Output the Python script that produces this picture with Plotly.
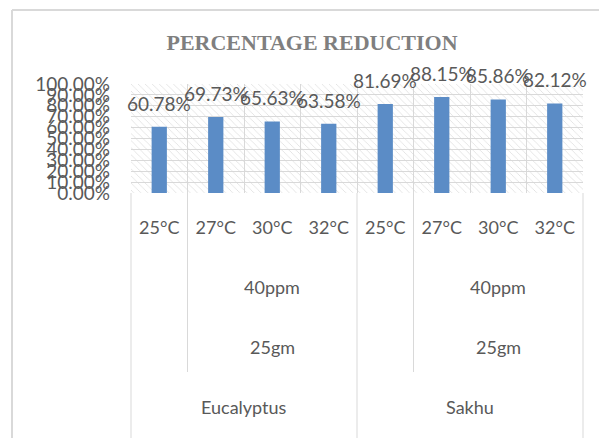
import plotly.graph_objects as go

# ---- data ----
temperatures = ["25°C", "27°C", "30°C", "32°C", "25°C", "27°C", "30°C", "32°C"]
concentration = ["40ppm", "40ppm"]
dose = ["25gm", "25gm"]
species = ["Eucalyptus", "Sakhu"]
reduction = [0.6078, 0.6973, 0.6563, 0.6358, 0.8169, 0.8815, 0.8586, 0.8212]
y_ticks = [i / 10 for i in range(11)]
YMAX = 1.0

# ---- layout geometry (page pixels); page body has an 8px margin ----
OFF = 8
PAGE_W, PAGE_H = 607, 438
W, H = PAGE_W - OFF, PAGE_H - OFF
L, R, T, B = 131 - OFF, 583 - OFF, 84 - OFF, 193 - OFF
PW, PH = R - L, B - T

def py(ypage):
    return (B - (ypage - OFF)) / PH

def px(xpage):
    return ((xpage - OFF) - L) / PW

n = len(temperatures)
idx = list(range(n))
TXT = "#595959"
GRID = "#d9d9d9"
FONT = "Lato"

fig = go.Figure()

# hatched plot-area background
fig.add_trace(go.Bar(
    x=[(n - 1) / 2], y=[YMAX], width=[n],
    marker=dict(color="rgba(0,0,0,0)", line=dict(width=0),
                pattern=dict(shape="\\", fgcolor="#d6d6d6", bgcolor="rgba(0,0,0,0)",
                             size=5, solidity=0.12, fillmode="replace")),
    hoverinfo="skip", showlegend=False,
))

# data bars
fig.add_trace(go.Bar(
    x=idx, y=reduction, width=0.27,
    marker=dict(color="#5B8CC6", line=dict(width=0)),
    showlegend=False,
))

annotations = []
for i, v in zip(idx, reduction):
    annotations.append(dict(x=i, y=v, xref="x", yref="y", text=f"{v*100:.2f}%",
                            showarrow=False, yanchor="bottom", yshift=10,
                            font=dict(family=FONT, size=19, color=TXT)))

group_size = n // len(species)
for g, sp in enumerate(species):
    start = g * group_size
    sub = list(range(start + 1, start + group_size))
    cx_sub = sum(sub) / len(sub)
    cx_all = (start + start + group_size - 1) / 2
    annotations.append(dict(x=cx_sub, y=py(287), xref="x", yref="paper", text=concentration[g],
                            showarrow=False, yanchor="middle",
                            font=dict(family=FONT, size=18, color=TXT)))
    annotations.append(dict(x=cx_sub, y=py(347), xref="x", yref="paper", text=dose[g],
                            showarrow=False, yanchor="middle",
                            font=dict(family=FONT, size=18, color=TXT)))
    annotations.append(dict(x=cx_all, y=py(407), xref="x", yref="paper", text=sp,
                            showarrow=False, yanchor="middle",
                            font=dict(family=FONT, size=18, color=TXT)))

shapes = []
line_style = dict(color=GRID, width=1)
frame_style = dict(color="#d9d9d9", width=2)
# full-height separators (edges and between species)
for b in [0, group_size, n]:
    xp = b / n
    shapes.append(dict(type="line", xref="paper", yref="paper", x0=xp, x1=xp,
                       y0=0, y1=py(PAGE_H + 5), line=line_style))
# separators between first temperature and rest of group
for g in range(len(species)):
    xp = (g * group_size + 1) / n
    shapes.append(dict(type="line", xref="paper", yref="paper", x0=xp, x1=xp,
                       y0=0, y1=py(372), line=line_style))
# chart frame: top and left edges
FX, FY = px(12), py(10)
shapes.append(dict(type="line", xref="paper", yref="paper", x0=FX, x1=px(PAGE_W),
                   y0=FY, y1=FY, line=frame_style))
shapes.append(dict(type="line", xref="paper", yref="paper", x0=FX, x1=FX,
                   y0=FY, y1=py(PAGE_H), line=frame_style))

fig.update_layout(
    width=W, height=H,
    margin=dict(l=L, r=W - R, t=T, b=H - B, pad=0),
    paper_bgcolor="white", plot_bgcolor="white",
    barmode="overlay",
    title=dict(text="PERCENTAGE REDUCTION", x=(312 - OFF) / W, xref="container", xanchor="center",
               y=1 - (42 - OFF) / H, yref="container", yanchor="middle",
               font=dict(family="Liberation Serif", size=22, color="#7f7f7f", weight="bold")),
    annotations=annotations,
    shapes=shapes,
)

fig.update_xaxes(
    range=[-0.5, n - 0.5], tickmode="array", tickvals=idx, ticktext=temperatures,
    showgrid=False, zeroline=False, showline=False, ticks="",
    tickfont=dict(family=FONT, size=18, color=TXT), ticklabelstandoff=22,
    minor=dict(tickmode="array", tickvals=[i - 0.5 for i in range(n + 1)],
               showgrid=True, gridcolor=GRID, gridwidth=1, ticks=""),
)
fig.update_yaxes(
    range=[0, YMAX], tickmode="array", tickvals=y_ticks, tickformat=".2%",
    showgrid=True, gridcolor=GRID, gridwidth=1, zeroline=False, showline=False,
    tickfont=dict(family=FONT, size=19, color=TXT), ticklabelstandoff=20,
)

fig.write_html("out.html")
